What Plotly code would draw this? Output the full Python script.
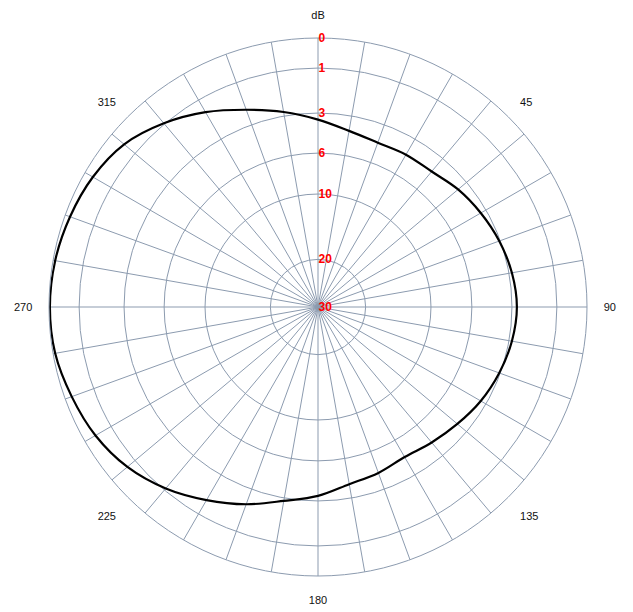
import numpy as np
import plotly.graph_objects as go

# ---- data ----
angles_deg = [0, 10, 20, 30, 40, 50, 60, 70, 80, 90, 100, 110, 120, 130, 140, 150, 160, 170,
              180, 190, 200, 210, 220, 230, 240, 250, 260, 270, 280, 290, 300, 310, 320, 330, 340, 350]
gain_db = [3.49, 4.13, 4.43, 4.35, 4.28, 3.83, 3.45, 3.08, 2.87, 2.78, 2.87, 3.08, 3.45, 3.90,
           4.28, 4.55, 4.30, 4.05, 3.38, 2.87, 2.29, 1.71, 1.09, 0.67, 0.40, 0.23, 0.07, 0.03,
           0.07, 0.17, 0.30, 0.53, 0.97, 1.62, 2.29, 2.82]

ring_db = [0, 1, 3, 6, 10, 20, 30]
ring_labels = ["0", "1", "3", "6", "10", "20", "30"]
ring_frac = [1.0, 0.888, 0.721, 0.572, 0.420, 0.177, 0.0]   # radial scale of the chart

angle_tick_vals = [0, 45, 90, 135, 180, 225, 270, 315]
angle_tick_text = ["dB", "45", "90", "135", "180", "225", "270", "315"]
spoke_angles = list(range(0, 360, 10))

GRID = "#8c9baf"


def db_to_r(db):
    return np.interp(db, ring_db, ring_frac)


theta = angles_deg + [angles_deg[0] + 360]
r_vals = [float(db_to_r(v)) for v in gain_db + [gain_db[0]]]

# spokes
sp_theta, sp_r = [], []
for a in spoke_angles:
    sp_theta += [a, a, None]
    sp_r += [0, 1, None]

fig = go.Figure()
fig.add_trace(go.Scatterpolar(theta=sp_theta, r=sp_r, mode="lines",
                              line=dict(color=GRID, width=1), hoverinfo="skip",
                              showlegend=False))
fig.add_trace(go.Scatterpolar(theta=theta, r=r_vals, mode="lines",
                              line=dict(color="black", width=2.2, shape="spline", smoothing=1.0),
                              showlegend=False))

fig.update_layout(
    width=625, height=604,
    margin=dict(l=41, r=46, t=30, b=36),
    paper_bgcolor="white",
    showlegend=False,
    polar=dict(
        bgcolor="white",
        domain=dict(x=[0, 1], y=[0, 1]),
        angularaxis=dict(
            rotation=90, direction="clockwise",
            tickmode="array", tickvals=angle_tick_vals, ticktext=angle_tick_text,
            showgrid=False, showline=True, linecolor=GRID, linewidth=1,
            ticks="outside", ticklen=14, tickcolor="rgba(0,0,0,0)",
            tickfont=dict(family="Liberation Sans, Arial", size=11, color="#111111"),
        ),
        radialaxis=dict(
            range=[0, 1], angle=90, side="clockwise", tickangle=90,
            tickmode="array", tickvals=[float(db_to_r(v)) for v in ring_db], ticktext=ring_labels,
            showgrid=True, gridcolor=GRID, gridwidth=1,
            showline=False, ticks="",
            tickfont=dict(family="Liberation Sans, Arial", size=12, color="red", weight="bold"),
        ),
    ),
)

fig.write_html("out.html")
